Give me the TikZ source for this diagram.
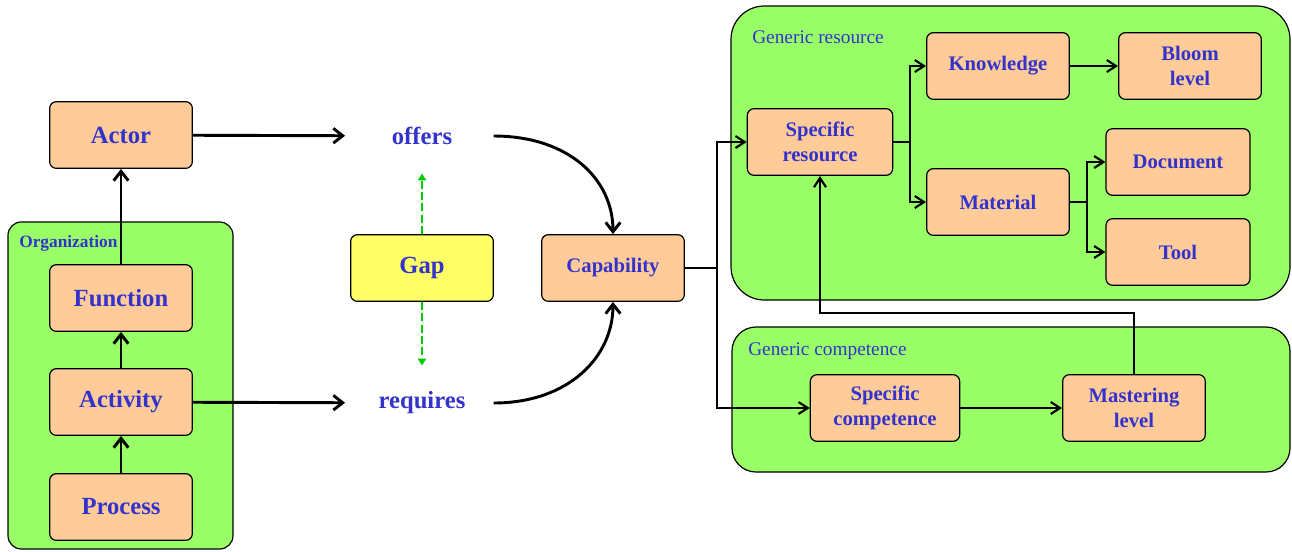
\documentclass[tikz,border=0pt]{standalone}
\usepackage{fontspec}
\setmainfont{Liberation Serif}
\usetikzlibrary{arrows.meta}
\definecolor{peach}{HTML}{FFCC99}
\definecolor{leaf}{HTML}{99FF66}
\definecolor{lemon}{HTML}{FFFF66}
\definecolor{ink}{HTML}{3333CC}
\definecolor{gapgreen}{HTML}{00CC00}
\tikzset{box/.style={draw=black,line width=0.9pt,fill=peach,rounded corners=5pt,align=center,
    text=ink,minimum width=107pt,minimum height=50pt},
  big/.style={font=\fontsize{18.5}{21}\selectfont\bfseries},
  small/.style={font=\fontsize{15.5}{19}\selectfont\bfseries},
  word/.style={text=ink,minimum width=107pt,minimum height=50pt,font=\fontsize{18.5}{21}\selectfont\bfseries},
  group/.style={draw=black,line width=0.9pt,fill=leaf},
  grouplabel/.style={anchor=west,text=ink,inner sep=0pt,font=\fontsize{14.5}{17}\selectfont},
  arrow/.style={-{Straight Barb[length=7pt,width=11pt]},line width=2.2pt},
  link/.style={-{Straight Barb[length=7pt,width=9pt]},line width=1.6pt},
  hint/.style={-{Triangle[length=5pt,width=6pt]},draw=gapgreen,fill=gapgreen,
    dash pattern=on 6pt off 2.5pt,line width=1.6pt,shorten >=3pt}}

\begin{document}
\begin{tikzpicture}[x=0.75pt,y=-0.75pt]
  \path[use as bounding box] (0,0) rectangle (1292,551);
  % the three green groups
  \draw[group,rounded corners=10pt] (8,222) rectangle (233,549);
  \node[grouplabel,font=\fontsize{13}{15}\selectfont\bfseries] (orglabel) at (19,243) {Organization};
  \draw[group,rounded corners=25pt] (731,6) rectangle (1290,300);
  \node[grouplabel] (reslabel) at (752,37) {Generic resource};
  \draw[group,rounded corners=18pt] (732,327) rectangle (1290,472);
  \node[grouplabel] (complabel) at (748,351) {Generic competence};

  % left column
  \node[box,big] (actor) at (121,135) {Actor};
  \node[box,big] (function) at (121,298) {Function};
  \node[box,big] (activity) at (121,402) {Activity};
  \node[box,big] (process) at (121,507) {Process};

  % middle
  \node[word] (offers) at (422,136) {offers};
  \node[word] (requires) at (422,403) {requires};
  \node[box,big,fill=lemon] (gap) at (422,268) {Gap};
  \node[box,small] (capability) at (613,268) {Capability};

  % resources
  \node[box,small,minimum width=109pt] (specres) at (820,142) {Specific\\resource};
  \node[box,small] (knowledge) at (998,66) {Knowledge};
  \node[box,small] (bloom) at (1190,66) {Bloom\\level};
  \node[box,small] (material) at (998,202) {Material};
  \node[box,small,minimum width=108pt] (document) at (1178,162) {Document};
  \node[box,small,minimum width=108pt] (tool) at (1178,252) {Tool};

  % competences
  \node[box,small,minimum width=112pt] (speccomp) at (885,408) {Specific\\competence};
  \node[box,small] (mastering) at (1134,408) {Mastering\\level};

  % connectors
  \draw[arrow] (process) -- (activity);
  \draw[arrow] (activity) -- (function);
  \draw[arrow] (function) -- (actor);
  \draw[arrow,shorten >=4pt] (actor) -- (offers);
  \draw[arrow,shorten >=4pt] (activity) -- (requires);
  \draw[arrow] (offers.east) .. controls +(75,0) and +(0,-55) .. (capability.north);
  \draw[arrow] (requires.east) .. controls +(75,0) and +(0,55) .. (capability.south);
  \draw[hint] (gap) -- (offers);
  \draw[hint] (gap) -- (requires);

  \coordinate (fork) at (717,268);
  \draw[link] (capability) -- (fork) |- (specres);
  \draw[link] (fork) |- (speccomp);
  \coordinate (resfork) at (910,142);
  \draw[link] (specres) -- (resfork) |- (knowledge);
  \draw[link] (resfork) |- (material);
  \draw[link] (knowledge) -- (bloom);
  \coordinate (matfork) at (1087,202);
  \draw[link] (material) -- (matfork) |- (document);
  \draw[link] (matfork) |- (tool);
  \draw[link] (speccomp) -- (mastering);
  \draw[link] (mastering.north) -- ++(0,-61) -| (specres.south);
\end{tikzpicture}
\end{document}
